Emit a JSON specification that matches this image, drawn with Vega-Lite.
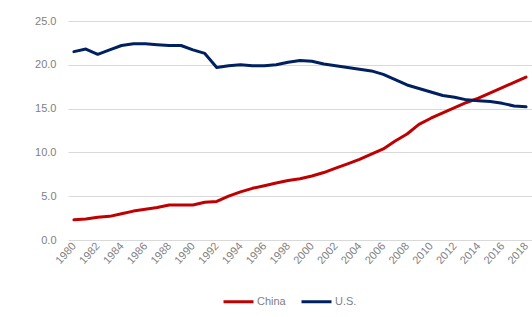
{
  "$schema": "https://vega.github.io/schema/vega-lite/v6.json",
  "width": 464,
  "height": 219,
  "autosize": {"type": "none"},
  "padding": {"left": 68, "top": 21, "right": 0, "bottom": 77},
  "background": "white",
  "config": {
    "view": {"stroke": null},
    "font": "Liberation Sans",
    "axis": {"labelColor": "#7f7f7f", "labelFont": "Liberation Sans", "domain": false, "ticks": false}
  },
  "datasets": {
    "d": [
      {"year": "1980", "country": "China", "value": 2.3}, {"year": "1981", "country": "China", "value": 2.4},
      {"year": "1982", "country": "China", "value": 2.6}, {"year": "1983", "country": "China", "value": 2.7},
      {"year": "1984", "country": "China", "value": 3.0}, {"year": "1985", "country": "China", "value": 3.3},
      {"year": "1986", "country": "China", "value": 3.5}, {"year": "1987", "country": "China", "value": 3.7},
      {"year": "1988", "country": "China", "value": 4.0}, {"year": "1989", "country": "China", "value": 4.0},
      {"year": "1990", "country": "China", "value": 4.0}, {"year": "1991", "country": "China", "value": 4.3},
      {"year": "1992", "country": "China", "value": 4.4}, {"year": "1993", "country": "China", "value": 5.0},
      {"year": "1994", "country": "China", "value": 5.5}, {"year": "1995", "country": "China", "value": 5.9},
      {"year": "1996", "country": "China", "value": 6.2}, {"year": "1997", "country": "China", "value": 6.5},
      {"year": "1998", "country": "China", "value": 6.8}, {"year": "1999", "country": "China", "value": 7.0},
      {"year": "2000", "country": "China", "value": 7.3}, {"year": "2001", "country": "China", "value": 7.7},
      {"year": "2002", "country": "China", "value": 8.2}, {"year": "2003", "country": "China", "value": 8.7},
      {"year": "2004", "country": "China", "value": 9.2}, {"year": "2005", "country": "China", "value": 9.8},
      {"year": "2006", "country": "China", "value": 10.4}, {"year": "2007", "country": "China", "value": 11.3},
      {"year": "2008", "country": "China", "value": 12.1}, {"year": "2009", "country": "China", "value": 13.2},
      {"year": "2010", "country": "China", "value": 13.9}, {"year": "2011", "country": "China", "value": 14.5},
      {"year": "2012", "country": "China", "value": 15.1}, {"year": "2013", "country": "China", "value": 15.7},
      {"year": "2014", "country": "China", "value": 16.2}, {"year": "2015", "country": "China", "value": 16.8},
      {"year": "2016", "country": "China", "value": 17.4}, {"year": "2017", "country": "China", "value": 18.0},
      {"year": "2018", "country": "China", "value": 18.6},
      {"year": "1980", "country": "U.S.", "value": 21.5}, {"year": "1981", "country": "U.S.", "value": 21.8},
      {"year": "1982", "country": "U.S.", "value": 21.2}, {"year": "1983", "country": "U.S.", "value": 21.7},
      {"year": "1984", "country": "U.S.", "value": 22.2}, {"year": "1985", "country": "U.S.", "value": 22.4},
      {"year": "1986", "country": "U.S.", "value": 22.4}, {"year": "1987", "country": "U.S.", "value": 22.3},
      {"year": "1988", "country": "U.S.", "value": 22.2}, {"year": "1989", "country": "U.S.", "value": 22.2},
      {"year": "1990", "country": "U.S.", "value": 21.7}, {"year": "1991", "country": "U.S.", "value": 21.3},
      {"year": "1992", "country": "U.S.", "value": 19.7}, {"year": "1993", "country": "U.S.", "value": 19.9},
      {"year": "1994", "country": "U.S.", "value": 20.0}, {"year": "1995", "country": "U.S.", "value": 19.9},
      {"year": "1996", "country": "U.S.", "value": 19.9}, {"year": "1997", "country": "U.S.", "value": 20.0},
      {"year": "1998", "country": "U.S.", "value": 20.3}, {"year": "1999", "country": "U.S.", "value": 20.5},
      {"year": "2000", "country": "U.S.", "value": 20.4}, {"year": "2001", "country": "U.S.", "value": 20.1},
      {"year": "2002", "country": "U.S.", "value": 19.9}, {"year": "2003", "country": "U.S.", "value": 19.7},
      {"year": "2004", "country": "U.S.", "value": 19.5}, {"year": "2005", "country": "U.S.", "value": 19.3},
      {"year": "2006", "country": "U.S.", "value": 18.9}, {"year": "2007", "country": "U.S.", "value": 18.3},
      {"year": "2008", "country": "U.S.", "value": 17.7}, {"year": "2009", "country": "U.S.", "value": 17.3},
      {"year": "2010", "country": "U.S.", "value": 16.9}, {"year": "2011", "country": "U.S.", "value": 16.5},
      {"year": "2012", "country": "U.S.", "value": 16.3}, {"year": "2013", "country": "U.S.", "value": 16.0},
      {"year": "2014", "country": "U.S.", "value": 15.9}, {"year": "2015", "country": "U.S.", "value": 15.8},
      {"year": "2016", "country": "U.S.", "value": 15.6}, {"year": "2017", "country": "U.S.", "value": 15.3},
      {"year": "2018", "country": "U.S.", "value": 15.2}
    ]
  },
  "data": {"name": "d"},
  "mark": {"type": "line", "strokeWidth": 3, "strokeCap": "round", "strokeJoin": "round"},
  "encoding": {
    "x": {
      "field": "year", "type": "ordinal",
      "scale": {"type": "point", "padding": 0.5},
      "axis": {
        "title": null,
        "values": ["1980","1982","1984","1986","1988","1990","1992","1994","1996","1998","2000","2002","2004","2006","2008","2010","2012","2014","2016","2018"],
        "labelAngle": -48, "labelAlign": "right", "labelBaseline": "middle",
        "labelFontSize": 11, "labelPadding": 4, "grid": false, "labelOverlap": false
      }
    },
    "y": {
      "field": "value", "type": "quantitative",
      "scale": {"domain": [0, 25], "nice": false},
      "axis": {
        "title": null, "values": [0, 5, 10, 15, 20, 25], "format": ".1f",
        "labelFontSize": 11, "labelPadding": 12, "gridColor": "#d9d9d9", "gridWidth": 1
      }
    },
    "color": {
      "field": "country", "type": "nominal",
      "scale": {"domain": ["China", "U.S."], "range": ["#c00000", "#002060"]},
      "legend": {
        "title": null, "orient": "none", "direction": "horizontal",
        "legendX": 154, "legendY": 264,
        "symbolType": "stroke", "symbolSize": 900, "symbolStrokeWidth": 3,
        "labelFontSize": 11, "labelColor": "#7f7f7f", "labelOffset": 2, "columnPadding": 9
      }
    }
  }
}
